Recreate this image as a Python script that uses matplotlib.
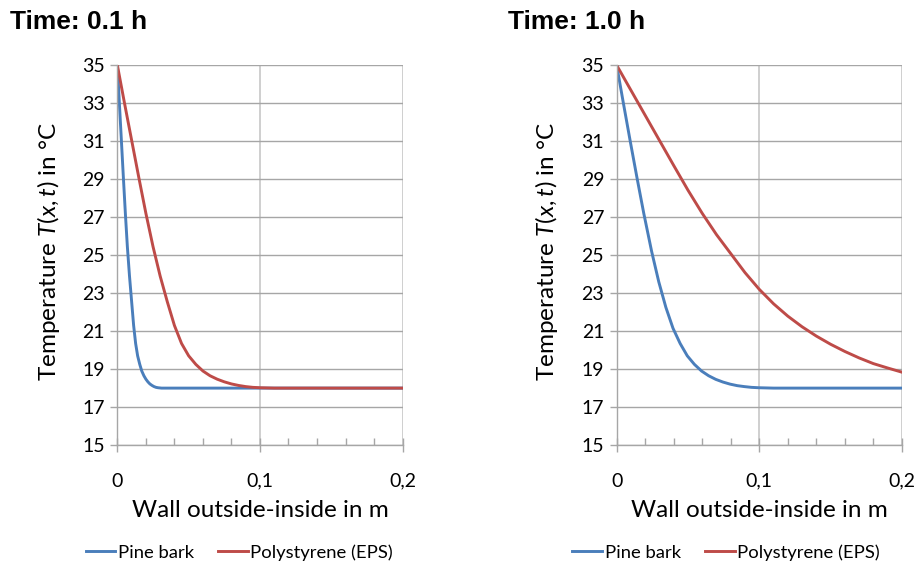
import matplotlib
matplotlib.use("Agg")
import matplotlib.pyplot as plt
from matplotlib.ticker import MultipleLocator, FuncFormatter

plt.rcParams['font.family'] = ['Lato', 'DejaVu Sans']
plt.rcParams['mathtext.fontset'] = 'custom'
plt.rcParams['mathtext.it'] = 'Lato:italic'
plt.rcParams['mathtext.rm'] = 'Lato'

# Data (x in m, T in degC)
titles = ["Time: 0.1 h", "Time: 1.0 h"]
series_names = ["Pine bark", "Polystyrene (EPS)"]
y_ticks = [15, 17, 19, 21, 23, 25, 27, 29, 31, 33, 35]

pine_x_01 = [0, 0.0014, 0.0028, 0.0042, 0.0056, 0.007, 0.0085, 0.01, 0.0114, 0.0128,
             0.0142, 0.0157, 0.0171, 0.0186, 0.02, 0.0214, 0.0228, 0.0243, 0.0257,
             0.0271, 0.0285, 0.031, 0.2]
pine_T_01 = [35, 33, 31.05, 29.1, 27.2, 25.45, 23.9, 22.55, 21.3, 20.35,
             19.7, 19.25, 18.9, 18.65, 18.47, 18.33, 18.22, 18.14, 18.08,
             18.04, 18.02, 18.0, 18.0]

eps_x_01 = [0, 0.005, 0.01, 0.015, 0.02, 0.025, 0.03, 0.035, 0.04, 0.045,
            0.05, 0.055, 0.06, 0.065, 0.07, 0.075, 0.08, 0.085, 0.09, 0.095,
            0.1, 0.11, 0.2]
eps_T_01 = [35, 33.0, 31.05, 29.1, 27.2, 25.45, 23.9, 22.55, 21.3, 20.35,
            19.7, 19.25, 18.9, 18.65, 18.47, 18.33, 18.22, 18.14, 18.08, 18.04,
            18.02, 18.0, 18.0]

pine_x_10 = [0, 0.0047, 0.0095, 0.0143, 0.019, 0.0245, 0.0295, 0.0345, 0.0395, 0.0445,
             0.0495, 0.0545, 0.0595, 0.0645, 0.0695, 0.0745, 0.0795, 0.0845, 0.0895,
             0.0945, 0.0995, 0.11, 0.2]
pine_T_10 = [35, 33, 31.0, 29.05, 27.2, 25.2, 23.6, 22.25, 21.15, 20.35,
             19.7, 19.25, 18.9, 18.65, 18.46, 18.32, 18.21, 18.13, 18.08,
             18.04, 18.02, 18.0, 18.0]

eps_x_10 = [0, 0.01, 0.02, 0.03, 0.04, 0.05, 0.06, 0.07, 0.08, 0.09, 0.1,
            0.11, 0.12, 0.13, 0.14, 0.15, 0.16, 0.17, 0.18, 0.19, 0.2]
eps_T_10 = [35, 33.68, 32.36, 31.04, 29.72, 28.42, 27.20, 26.08, 25.08, 24.08, 23.20,
            22.44, 21.79, 21.23, 20.74, 20.31, 19.93, 19.59, 19.29, 19.06, 18.84]

panels = [
    (pine_x_01, pine_T_01, eps_x_01, eps_T_01),
    (pine_x_10, pine_T_10, eps_x_10, eps_T_10),
]

blue = "#4A7EBB"
red = "#BE4B48"

fig = plt.figure(figsize=(9.17, 5.67), dpi=100)

ax_lefts = [0.128, 0.6725]
title_x = [0.011, 0.554]
ylabel_x = [0.068, 0.611]
legend_cx = [0.261, 0.792]

for i, (px, pT, ex, eT) in enumerate(panels):
    ax = fig.add_axes([ax_lefts[i], 0.215, 0.311, 0.670])
    l1, = ax.plot(px, pT, color=blue, lw=2.1, label=series_names[0])
    l2, = ax.plot(ex, eT, color=red, lw=2.1, label=series_names[1])

    ax.set_xlim(0, 0.2)
    ax.set_ylim(15, 35)
    ax.set_yticks(y_ticks)
    ax.xaxis.set_major_locator(MultipleLocator(0.1))
    ax.xaxis.set_minor_locator(MultipleLocator(0.02))
    ax.xaxis.set_major_formatter(FuncFormatter(lambda v, p: ("%g" % round(v, 3)).replace(".", ",")))

    ax.grid(axis="y", color="#A6A6A6", lw=1.0)
    ax.grid(axis="x", which="major", color="#CBCBCB", lw=1.3)
    ax.set_axisbelow(True)

    for s in ["top", "right"]:
        ax.spines[s].set_visible(False)
    for s in ["left", "bottom"]:
        ax.spines[s].set_color("#A6A6A6")
        ax.spines[s].set_linewidth(1.0)

    ax.tick_params(axis="y", direction="out", length=5, width=1, color="#A6A6A6",
                   labelsize=14, pad=4)
    ax.tick_params(axis="x", which="major", direction="inout", length=10, width=1,
                   color="#A6A6A6", labelsize=14, pad=15)
    ax.tick_params(axis="x", which="minor", direction="in", length=5, width=1,
                   color="#A6A6A6")

    ax.set_xlabel("Wall outside-inside in m", fontsize=17.5, labelpad=7)
    ax.set_ylabel("Temperature $T(x,t)$ in °C", fontsize=17.5)
    ax.yaxis.set_label_coords(ylabel_x[i], 0.556, transform=fig.transFigure)

    fig.text(title_x[i], 0.961, titles[i], fontsize=19, fontweight="bold",
             family="Liberation Sans", va="center", ha="left")

    fig.legend(handles=[l1, l2], loc="center", bbox_to_anchor=(legend_cx[i], 0.026),
               ncol=2, frameon=False, fontsize=13.3, handlelength=1.6,
               handletextpad=0.15, columnspacing=1.3, borderpad=0.2)

fig.savefig("out.png", dpi=100)
